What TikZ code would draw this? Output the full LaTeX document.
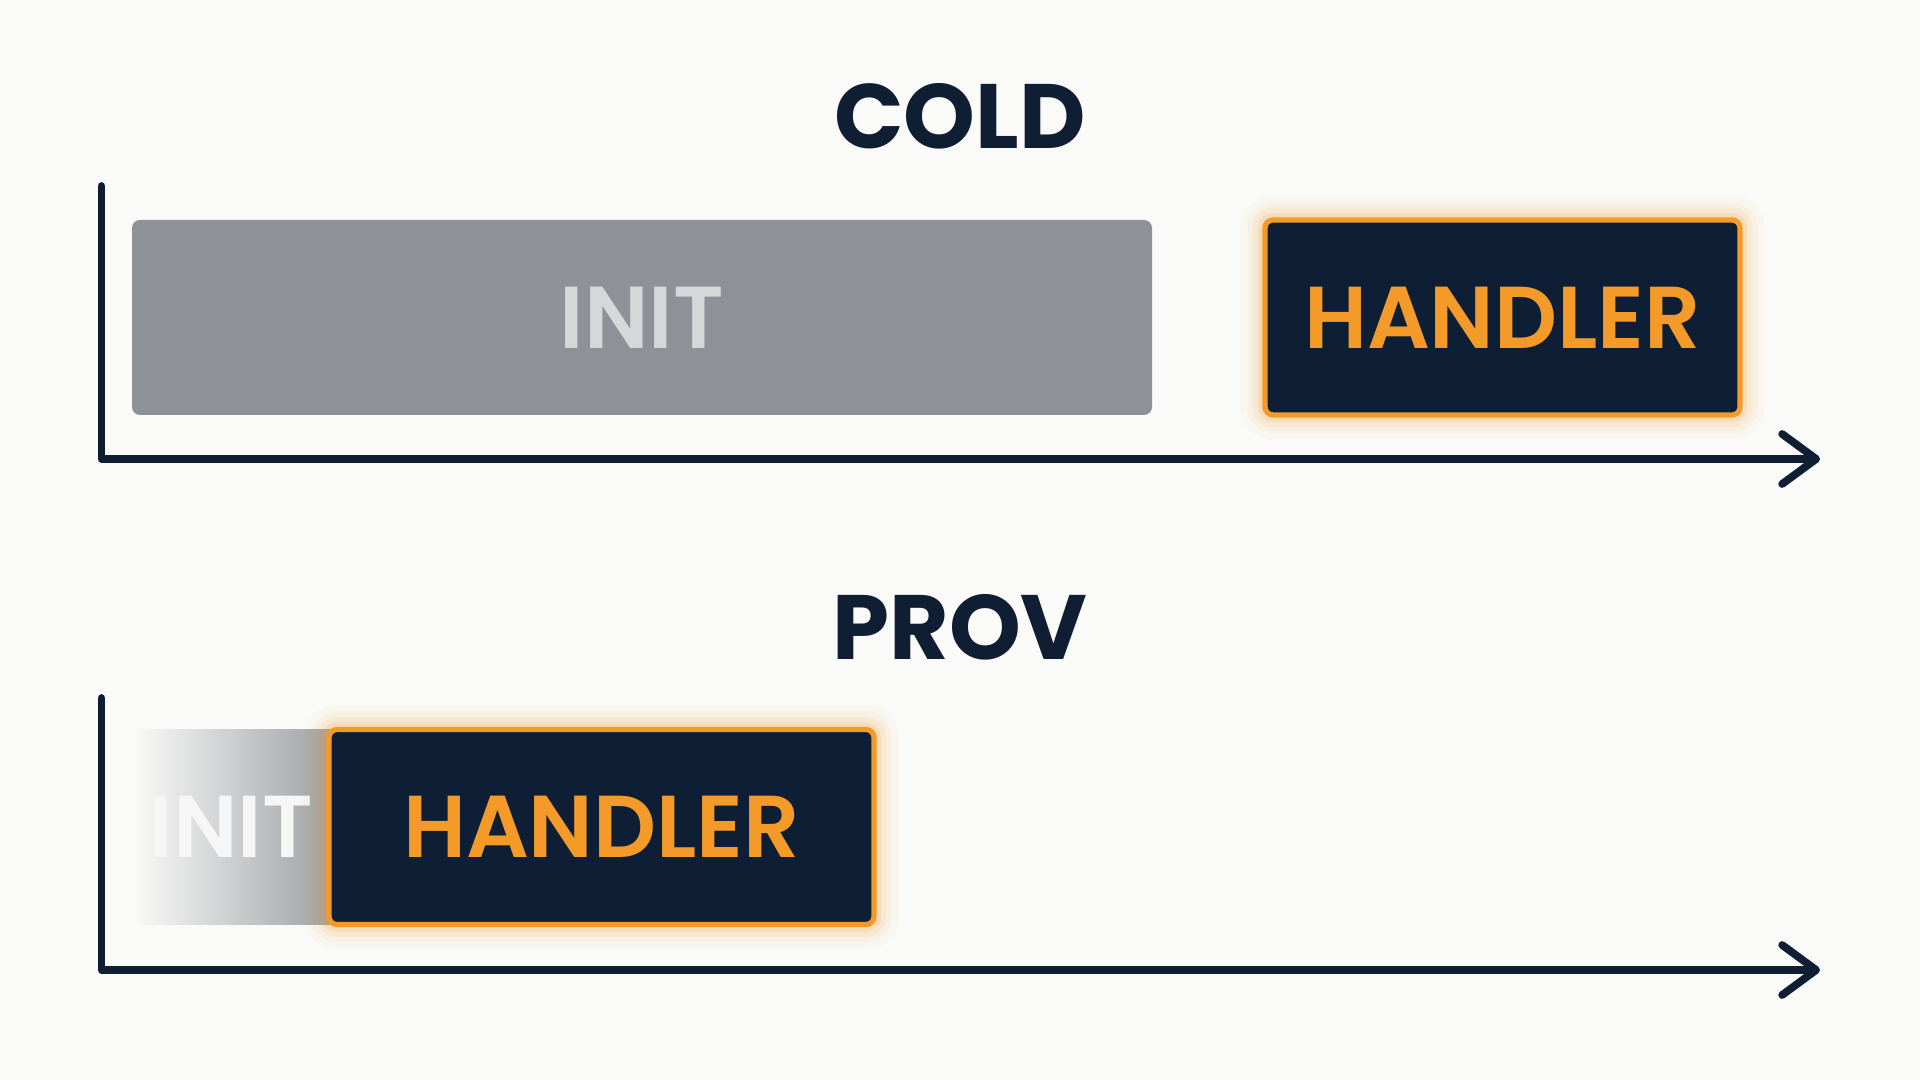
\documentclass[tikz,border=0pt]{standalone}
\usepackage{fontspec}
\setmainfont{Poppins}[BoldFont={Poppins SemiBold}]
\newfontfamily\titlefont{Poppins Bold}
\usetikzlibrary{arrows.meta}

\definecolor{ink}{HTML}{0F1E33}
\definecolor{navy}{HTML}{0E1F35}
\definecolor{amber}{HTML}{F39A28}
\definecolor{slate}{HTML}{8E9197}
\definecolor{paper}{HTML}{FAFAF8}
\definecolor{ghost}{HTML}{D6D7D9}

\tikzset{
  title/.style={text=ink, font=\titlefont\fontsize{26}{30}\selectfont},
  label/.style={font=\bfseries\fontsize{25}{28}\selectfont},
  initbox/.style={label, fill=slate, text=ghost, rounded corners=0.08cm,
    minimum height=1.95cm, inner sep=0pt},
  handlerbox/.style={label, fill=navy, text=amber, draw=amber, line width=1.5pt,
    rounded corners=0.08cm, minimum height=1.95cm, inner sep=0pt,
    preaction={draw=amber, line width=14pt, opacity=0.04},
    preaction={draw=amber, line width=10pt, opacity=0.06},
    preaction={draw=amber, line width=7pt, opacity=0.09},
    preaction={draw=amber, line width=4pt, opacity=0.15}},
  axis/.style={draw=ink, line width=2.2pt, line cap=round, line join=round,
    -{Straight Barb[length=0.34cm, width=0.5cm, line width=2.2pt, round]}}
}

\begin{document}
\begin{tikzpicture}

\fill[paper] (0,0) rectangle (19.2,10.8);
\useasboundingbox (0,0) rectangle (19.2,10.8);

% cold start
\draw (9.6,9.64) node(COLD)[title]{COLD};
\draw (6.42,7.625) node(INIT)[initbox, minimum width=10.2cm]{INIT};
\draw (15.025,7.625) node(HANDLER)[handlerbox, minimum width=4.75cm]{HANDLER};

\coordinate (CTOP) at (1.016,8.94);
\coordinate (CEND) at (18.2,6.21);
\draw[axis] (CTOP) |- (CEND);

% provisioned
\draw (9.6,4.53) node(PROV)[title]{PROV};
\draw (2.31,2.53) node(PINIT)[initbox, minimum width=1.98cm, rounded corners=0pt,
  fill=none, left color=paper, right color=slate!85, text=white!92!slate]{INIT};
\draw (6.015,2.53) node(PHANDLER)[handlerbox, minimum width=5.45cm]{HANDLER};

\coordinate (PTOP) at (1.016,3.82);
\coordinate (PEND) at (18.2,1.10);
\draw[axis] (PTOP) |- (PEND);

\end{tikzpicture}
\end{document}
